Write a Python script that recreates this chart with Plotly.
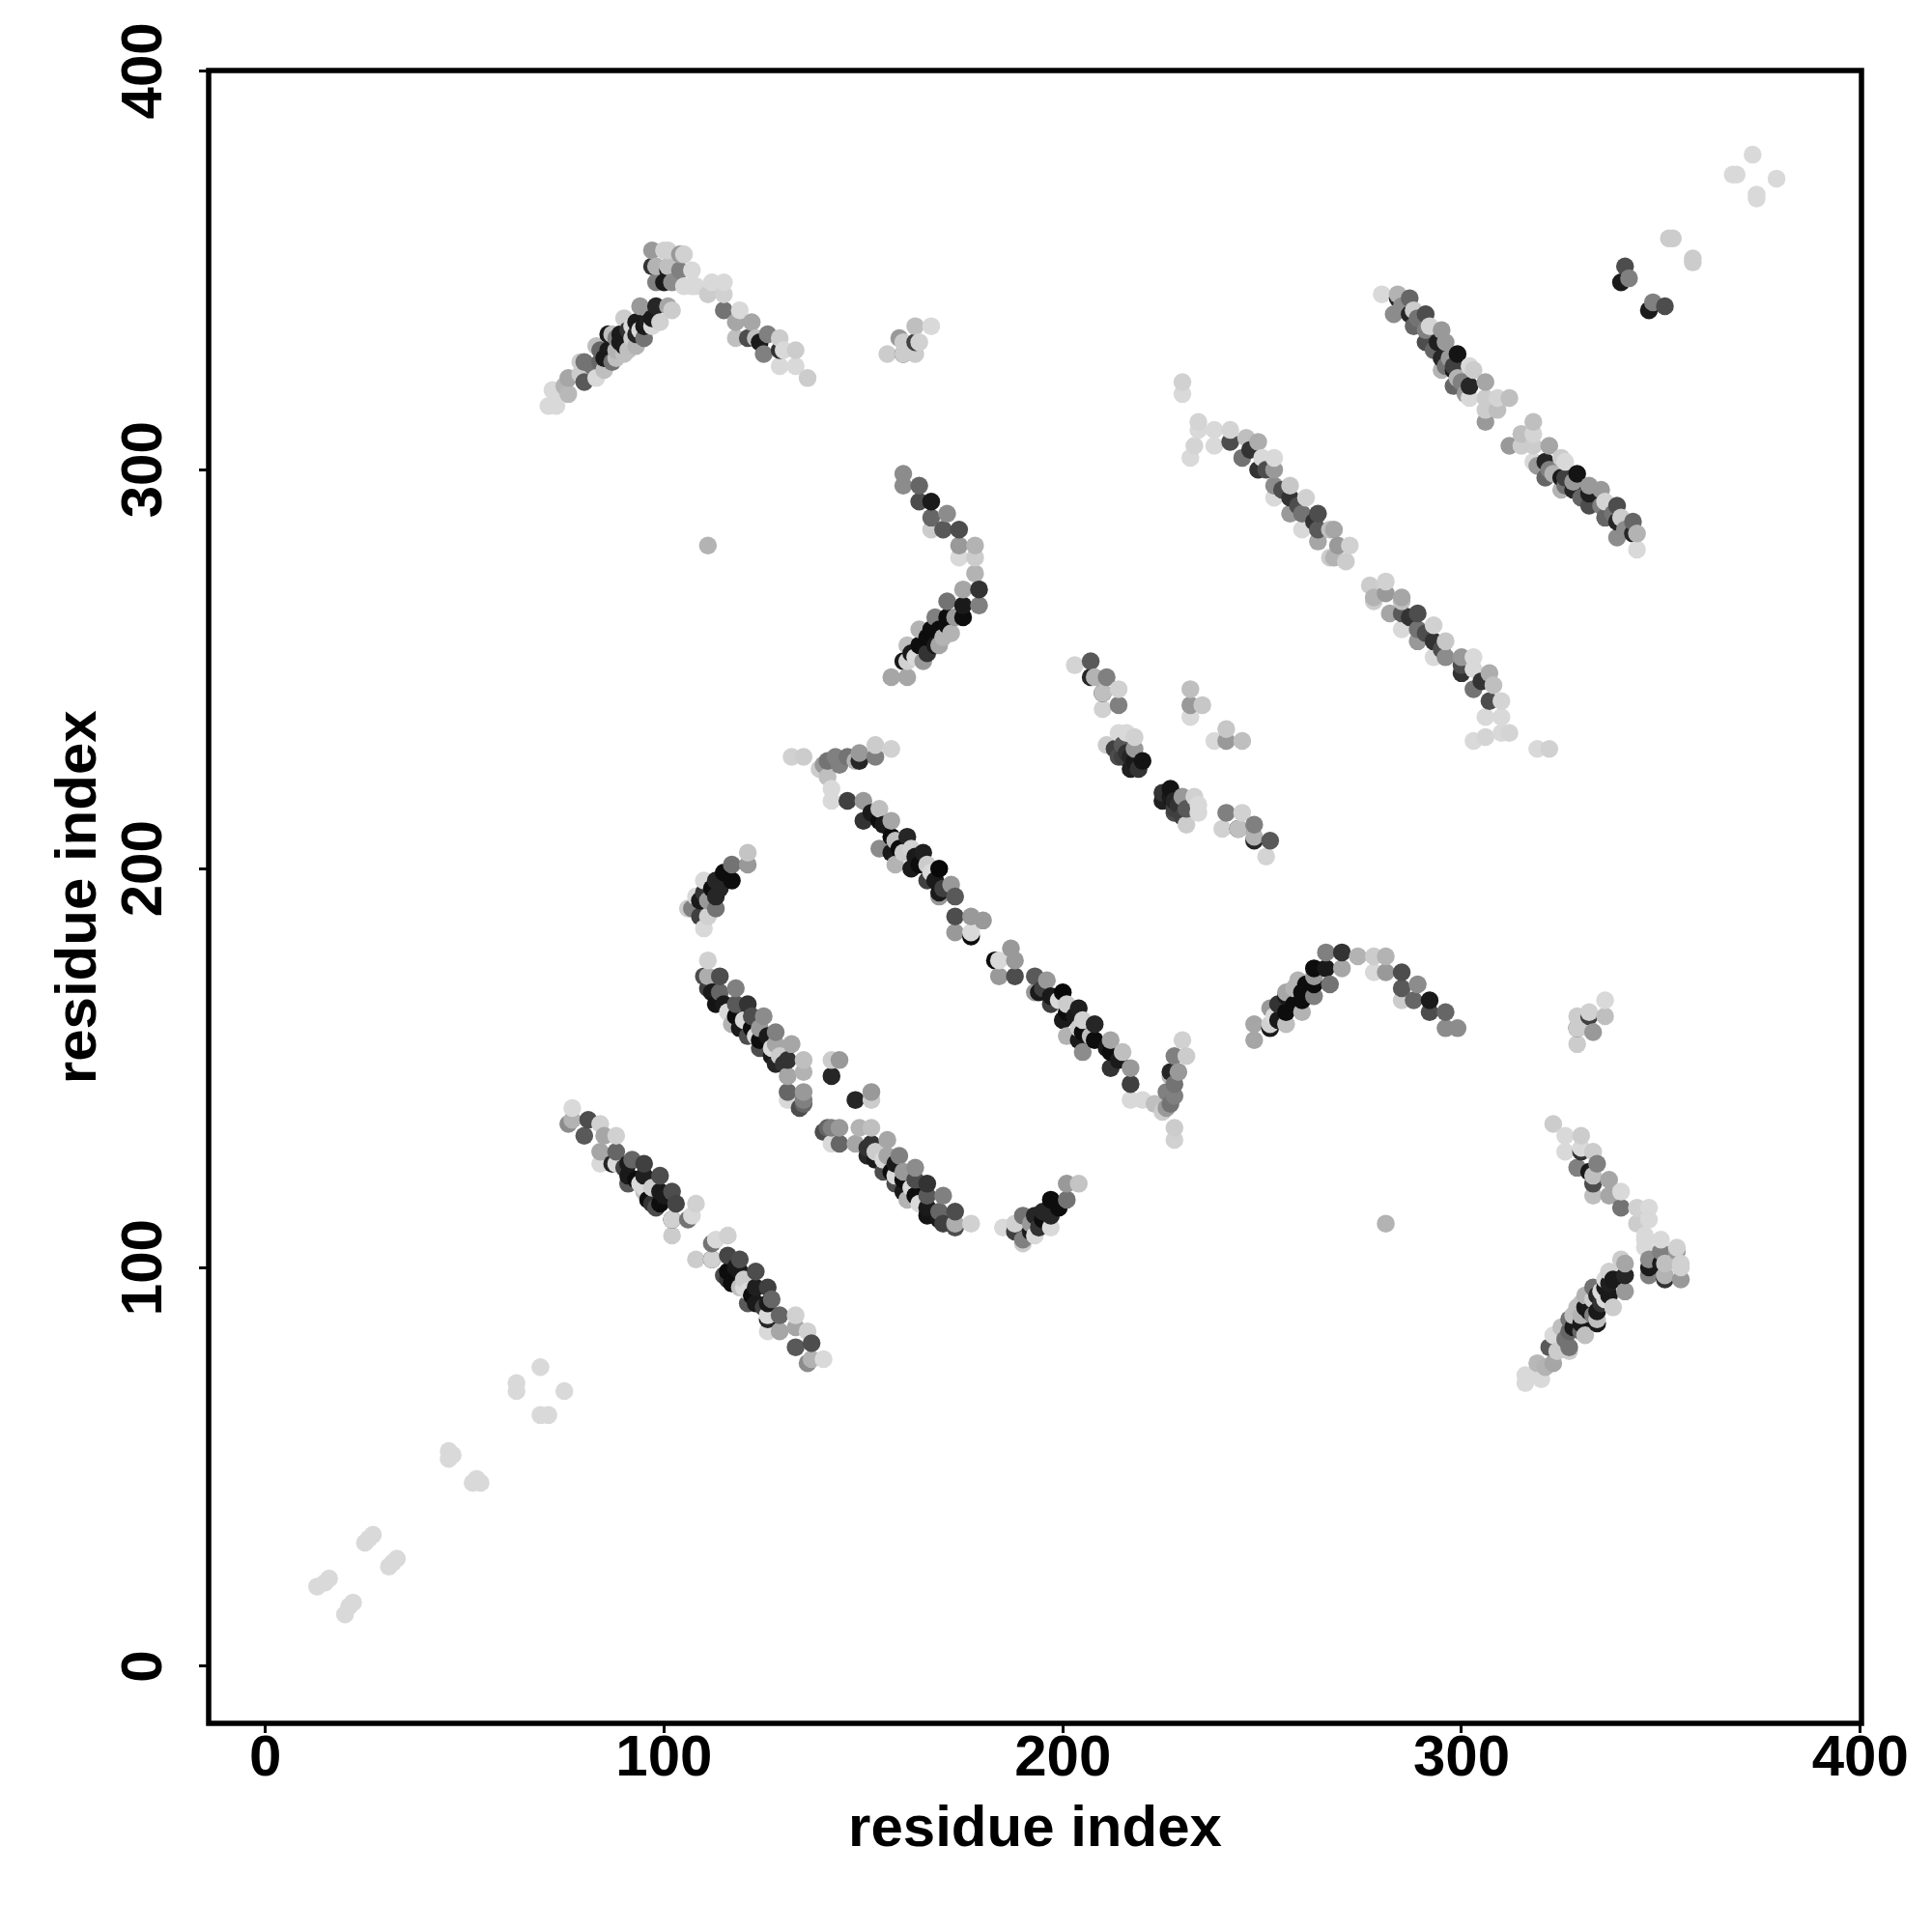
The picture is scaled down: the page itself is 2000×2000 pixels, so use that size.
import plotly.graph_objects as go

# Contacts as (residue i, residue j, gray level 0=black..1=white); map is symmetric.
strand_a = [(71,316,.85),(73,316,.85),(72,320,.85),(73,319,.85),(76,319,.72),(76,323,.65),(75,321,.7),(80,322,.35),(79,324,.8),(83,323,.85),(79,327,.8),(80,327,.45),(84,327,.4),(87,327,.45),(83,331,.75),(84,330,.4),(86,330,.1),(88,330,.7),(91,330,.75),(87,334,.75),(86,334,.1),(89,332,.1),(88,333,.5),(95,333,.45),(92,333,.8),(90,338,.8),(93,337,.1),(95,336,.1),(96,337,.12),(94,341,.6),(98,341,.15),(97,338,.1),(99,337,.82),(101,341,.65),(102,340,.8),
            (85,328,.1),(89,334,.1),(90,331,.1),(94,335,.85),(91,335,.2),(93,334,.15),(92,336,.85),(97,336,.85),
            (82,326,.45),(85,325,.75),(88,328,.75),(90,329,.75),(93,331,.7)]
strand_b = [(97,351,.2),(98,347,.5),(100,347,.1),(102,347,.55),(101,350,.1),(98,351,.7),(101,351,.75),(97,355,.6),(100,355,.82),(101,355,.82),(104,350,.5),(104,354,.6),(105,354,.82),(107,350,.85)]
strand_c = [(105,346,.85),(107,346,.85),(108,346,.85),(111,344,.8),(112,347,.85),(115,347,.85),(115,344,.82),(115,340,.45),(119,340,.85),(118,333,.75),(118,337,.65),(122,337,.65),(124,332,.1),(121,333,.3),(123,333,.75),(125,329,.5),(126,334,.5),(129,330,.2),(130,330,.85),(129,333,.8),(129,326,.85),(133,326,.85),(133,330,.8),(136,323,.8)]
cluster_d = [(160,329,.25),(156,329,.8),(159,333,.6),(160,332,.8),(163,329,.8),(160,329,.8),(163,336,.75),(167,336,.85),(163,332,.25),(164,332,.82)]
isolated = [(111,281,.7)]
strand_e = [(160,296,.55),(160,299,.55),(164,292,.3),(164,296,.4),(167,285,.8),(167,288,.4),(167,292,.1),(170,285,.35),(171,289,.55),(174,281,.6),(174,278,.85),(174,285,.3),(178,278,.8),(178,281,.7),(178,274,.7),(179,266,.5),(179,270,.2),(175,270,.65),(175,263,.05),(175,266,.1),(171,267,.45),(168,263,.5),(171,263,.05),(172,259,.7),(167,260,.05),(164,260,.7),(168,256,.1),(164,256,.05),(161,256,.75),(160,252,.1),(161,252,.82),(165,252,.6),(157,248,.65),(161,248,.65),
            (166,258,.05),(169,260,.05),(170,258,.7),(173,263,.6),(162,254,.1),(163,253,.85),(166,254,.2),(171,261,.05),(169,256,.65)]
strand_g = [(203,251,.83),(207,252,.35),(207,248,.15),(208,248,.7),(211,248,.5),(210,244,.1),(210,244,.75),(214,241,.5),(214,245,.82),(210,240,.82)]
cluster_h = [(232,245,.75),(232,238,.85),(232,241,.6),(235,241,.78)]
cluster_j = [(211,231,.8),(214,228,.3),(215,228,.25),(217,225,.12),(219,225,.2),(220,227,.08),(218,230,.6),(214,234,.85),(216,234,.85),(218,233,.82),
             (213,230,.25),(215,231,.35),(216,229,.2),(217,228,.15),(218,227,.1)]
cluster_n = [(132,228,.82),(135,228,.8),(142,217,.85),(142,220,.85),(141,223,.75),(139,225,.8),(140,226,.6),(141,227,.45),(143,228,.5),(144,226,.5),(146,228,.45),(148,227,.7),(149,227,.15),(149,229,.6),(153,228,.5),(153,231,.8),(157,230,.82)]
strand_m = [(146,217,.25),(150,212,.2),(150,217,.6),(154,205,.55),(154,212,.05),(154,215,.75),(157,212,.65),(157,204,.1),(157,208,.05),(158,201,.7),(161,208,.15),(162,200,.1),(162,205,.82),(165,204,.12),(166,197,.25),(166,201,.8),(169,193,.6),(169,194,.1),(169,200,.03),(172,196,.6),(173,193,.35),(173,184,.6),(173,188,.3),(177,183,.05),(177,184,.85),(177,188,.6),(180,187,.6),
            (152,214,.1),(155,211,.1),(158,207,.75),(159,205,.05),(160,204,.8),(163,203,.1),(164,201,.05),(167,199,.85),(168,197,.1),(170,195,.25)]
strand_s = [(77,140,.85),(76,136,.55),(77,137,.7),(81,137,.3),(80,133,.35),(84,136,.82),(84,129,.65),(85,133,.65),(84,126,.85),(87,126,.15),(88,129,.4),(88,133,.82),(88,126,.85),(91,121,.35),(91,123,.1),(91,126,.1),(92,127,.4),(95,119,.75),(95,120,.85),(95,123,.12),(95,126,.25),(98,115,.3),(99,116,.05),(99,119,.1),(99,123,.3),(102,119,.3),(103,116,.27),(102,112,.1),(102,112,.82),(106,112,.45),(107,113,.85),(108,116,.82),(102,108,.8),
            (90,125,.25),(93,122,.05),(94,121,.85),(96,117,.05),(97,120,.8),(100,118,.1),(97,116,.2)]
strand_t = [(111,177,.82),(110,173,.3),(111,173,.68),(111,170,.25),(114,173,.3),(114,169,.4),(118,170,.5),(113,166,.08),(118,166,.35),(121,166,.2),(117,161,.7),(118,163,.05),(122,163,.3),(125,163,.55),(121,158,.3),(124,155,.3),(124,157,.05),(124,160,.6),(128,159,.5),(128,151,.15),(128,156,.65),(132,156,.65),(131,152,.2),(135,152,.75),(131,148,.65),(135,149,.7),(131,144,.4),(131,142,.85),(134,140,.3),(135,141,.4),(135,142,.5),(135,144,.6),
            (112,169,.1),(115,166,.1),(116,164,.85),(119,160,.1),(120,162,.85),(122,160,.05),(123,158,.85),(126,158,.1),(127,153,.1),(127,155,.85),(130,151,.2),(129,153,.8)]
cluster_t2 = [(142,152,.8),(144,152,.6),(142,148,.15)]
cluster_u = [(110,185,.85),(111,188,.82),(106,190,.8),(107,190,.5),(109,188,.25),(109,192,.1),(108,193,.85),(111,192,.6),(110,197,.85),(113,190,.45),(113,193,.15),(117,197,.05),(113,197,.15),(117,201,.45),(121,201,.6),(121,204,.77),
             (112,195,.05),(115,199,.05),(110,194,.2),(114,195,.15)]
strand_v = [(230,319,.85),(230,322,.82),(232,303,.85),(233,306,.83),(234,310,.85),(234,312,.83),(238,306,.85),(238,310,.85),(242,307,.3),(242,310,.83),(245,303,.45),(246,308,.75),(249,300,.2),(249,307,.68),(250,303,.85),(253,293,.85),(253,296,.55),(253,300,.6),(253,303,.85),(257,289,.6),(257,293,.2),(257,296,.78),(260,285,.85),(260,289,.45),(261,293,.82),(264,282,.65),(264,285,.35),(264,289,.3),(267,278,.8),(268,278,.7),(268,285,.65),(267,285,.75),(269,281,.6),(271,277,.8),(272,281,.82),
            (247,305,.2),(251,300,.3),(255,295,.3),(259,291,.3),(263,287,.2)]
strand_w = [(280,344,.85),(283,339,.55),(284,343,.15),(284,344,.7),(287,339,.15),(287,343,.4),(288,340,.8),(288,336,.4),(291,339,.3),(292,336,.83),(291,332,.3),(295,335,.6),(294,332,.12),(296,332,.6),(295,325,.7),(295,328,.15),(298,325,.1),(298,326,.25),(299,329,.08),(298,321,.4),(302,318,.85),(302,321,.15),(302,326,.85),(303,325,.8),(306,312,.6),(306,315,.8),(306,318,.8),(306,322,.65),(309,315,.75),(309,318,.83),(312,318,.75),
            (285,341,.55),(289,338,.45),(291,335,.5),(293,330,.4),(297,328,.6),(296,326,.45),(299,323,.7),(300,322,.5),(301,319,.6)]
cluster_far = [(340,347,.1),(341,351,.3),(342,348,.5),(352,358,.8),(353,358,.8),(368,374,.85),(369,374,.85),(373,379,.85)]
cluster_diag = [(63,69,.85),(63,71,.85),(69,75,.85),(46,52,.85),(46,54,.85),(47,53,.85),(25,31,.85),(26,32,.85),(27,33,.85),(13,20,.85),(15,21,.85),(16,22,.85)]

contacts = (cluster_diag + strand_s + strand_t + cluster_t2 + cluster_u + strand_a + strand_b + strand_c
            + cluster_d + isolated + strand_e + strand_m + cluster_n + strand_g + cluster_h + cluster_j
            + strand_v + strand_w + cluster_far)

# Both halves of the symmetric map, drawn in ascending residue order as in the source plot.
both_halves = sorted(contacts + [(j, i, g) for i, j, g in contacts], key=lambda c: (c[0], c[1]))
residue_x = [c[0] for c in both_halves]
residue_y = [c[1] for c in both_halves]
gray_level = [c[2] for c in both_halves]

tick_values = [0, 100, 200, 300, 400]
axis_label = "residue index"
FONT = "Liberation Sans"
OFF = 8  # default page margin around the plot div

L, R, T, B = 216.3, 1927.0, 72.7, 1783.7
W = H = 1980
marker = dict(size=18.5, color=gray_level, cmin=0, cmax=1,
              colorscale=[[0, "#000000"], [1, "#ffffff"]], showscale=False, line=dict(width=0))

fig = go.Figure()
fig.add_trace(go.Scatter(x=residue_x, y=residue_y, mode="markers", marker=marker, showlegend=False))

tickfont = dict(family=FONT, size=60, color="black", weight="bold")
titlefont = dict(family=FONT, size=60, color="black", weight="bold")
common = dict(tickvals=tick_values, ticktext=[str(t) for t in tick_values], showgrid=False, zeroline=False,
              showline=False, ticks="outside", ticklen=9, tickwidth=3, tickcolor="black", tickfont=tickfont)
fig.update_layout(
    width=W, height=H, autosize=False, plot_bgcolor="white", paper_bgcolor="white", showlegend=False,
    margin=dict(l=L-OFF, r=W-(R-OFF), t=T-OFF, b=H-(B-OFF), pad=0, autoexpand=False),
    xaxis=dict(range=[-14.2, 400.3], ticklabelstandoff=-28, ticklabeloverflow="allow",
               title=dict(text=axis_label, font=titlefont, standoff=18), **common),
    yaxis=dict(range=[-14.3, 400.1], tickangle=-90, ticklabelstandoff=15, ticklabelshift=9, ticklabeloverflow="allow",
               **common),
    annotations=[dict(text=axis_label, xref="paper", yref="paper", x=(79 - L) / (R - L), y=0.5,
                      xanchor="center", yanchor="middle", textangle=-90, showarrow=False, font=titlefont)],
    shapes=[dict(type="rect", xref="paper", yref="paper", x0=0, x1=1, y0=0, y1=1,
                 line=dict(color="black", width=5.5), layer="above")],
)
fig.write_html("out.html")
